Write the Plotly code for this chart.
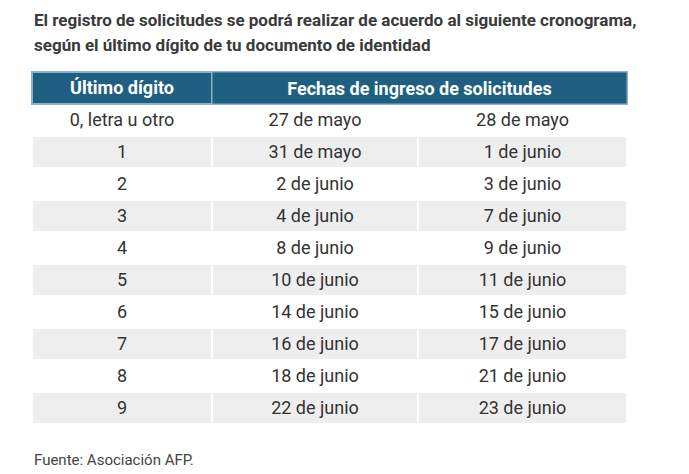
import plotly.graph_objects as go

W, H = 689, 474

HEADER_BLUE = "#1f5f82"
HEADER_LINE = "#8db1c8"
ROW_GRAY = "#eeeeee"
TEXT = "#333333"

# columnas de la tabla
ultimo_digito = ["0, letra u otro", "1", "2", "3", "4", "5", "6", "7", "8", "9"]
fecha_1 = ["27 de mayo", "31 de mayo", "2 de junio", "4 de junio", "8 de junio",
           "10 de junio", "14 de junio", "16 de junio", "18 de junio", "22 de junio"]
fecha_2 = ["28 de mayo", "1 de junio", "3 de junio", "7 de junio", "9 de junio",
           "11 de junio", "15 de junio", "17 de junio", "21 de junio", "23 de junio"]

col_header = "Último dígito"
fechas_header = "Fechas de ingreso de solicitudes"

title_lines = [
    "El registro de solicitudes se podrá realizar de acuerdo al siguiente cronograma,",
    "según el último dígito de tu documento de identidad",
]
source = "Fuente: Asociación AFP."

row_fill = ["white" if i % 2 == 0 else ROW_GRAY for i in range(len(ultimo_digito))]

x0, x1 = 32 / W, 627 / W
y_top = 1 - 72 / H
y_bot = 1 - 440 / H

# texto sin etiquetas html: así plotly no agranda la fila al medirla
fig = go.Figure(
    go.Table(
        domain=dict(x=[x0, x1], y=[y_bot, y_top]),
        columnwidth=[180, 206, 209],
        header=dict(
            values=[col_header, "", ""],
            fill_color=HEADER_BLUE,
            line=dict(color=HEADER_LINE, width=2),
            font=dict(family="Roboto", size=18, color="white", weight="bold"),
            align="center",
            height=32,
        ),
        cells=dict(
            values=[ultimo_digito, fecha_1, fecha_2],
            fill_color=[row_fill] * 3,
            line=dict(color="white", width=2),
            font=dict(family="Roboto", size=18, color=TEXT),
            align="center",
            height=32,
        ),
    )
)

# encabezado combinado sobre las dos columnas de fechas
fig.add_annotation(
    xref="paper", yref="paper",
    x=(213 + 626) / 2 / W, y=1 - 88 / H,
    xanchor="center", yanchor="middle",
    text=f"<b>{fechas_header}</b>",
    showarrow=False,
    bgcolor=HEADER_BLUE,
    width=411, height=28,
    font=dict(family="Roboto", size=18, color="white"),
)

for i, line in enumerate(title_lines):
    fig.add_annotation(
        xref="paper", yref="paper", x=32 / W, y=1 - (20 + 25 * i) / H,
        xanchor="left", yanchor="middle", align="left",
        text=f"<b>{line}</b>",
        showarrow=False,
        font=dict(family="Roboto", size=17, color="#3a3a3a"),
    )

fig.add_annotation(
    xref="paper", yref="paper", x=32 / W, y=1 - 460 / H,
    xanchor="left", yanchor="middle",
    text=source,
    showarrow=False,
    font=dict(family="Roboto", size=15, color="#444444"),
)

fig.update_layout(
    width=W, height=H,
    margin=dict(l=0, r=0, t=0, b=0),
    paper_bgcolor="white",
)

fig.write_html(
    "out.html",
    config={"displayModeBar": False},
    post_script="document.body.style.margin='0';",
)
